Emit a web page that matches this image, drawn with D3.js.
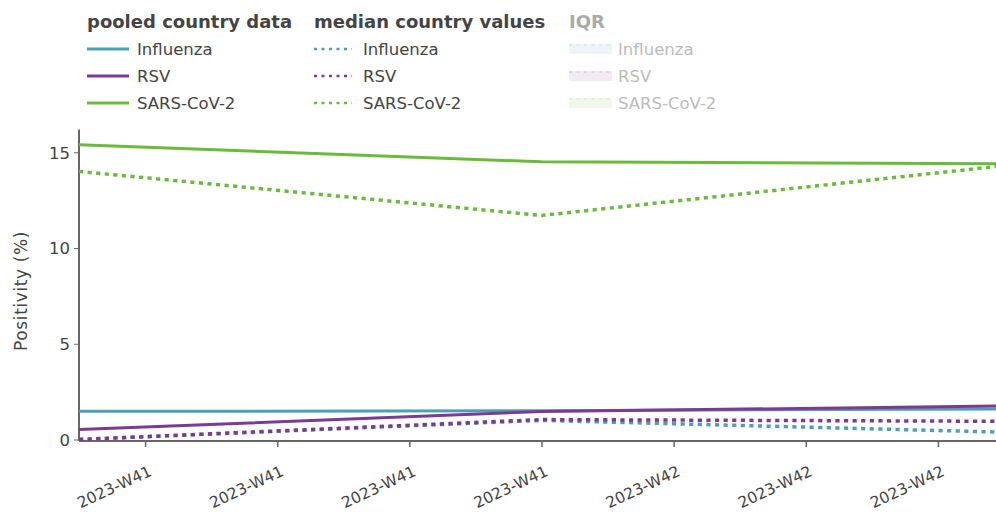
<!DOCTYPE html>
<html>
<head>
<meta charset="utf-8">
<script src="https://cdn.jsdelivr.net/npm/d3@7/dist/d3.min.js"></script>
<style>
  body { margin: 0; background: #fff; }
  svg { display: block; font-family: "DejaVu Sans", Verdana, sans-serif; }
</style>
</head>
<body>
<div id="chart"></div>
<script>
// Weekly positivity, three surveillance weeks (week ending dates).
const dates = ["2023-10-08", "2023-10-15", "2023-10-22"];
const viruses = ["Influenza", "RSV", "SARS-CoV-2"];
const colors = ["#4ba0b3", "#7d3a95", "#6abb3b"];

// pooled country data (solid lines)
const pooledFlu = [1.47, 1.5, 1.6];
const pooledRsv = [0.52, 1.46, 1.75];
const pooledSars = [15.4, 14.5, 14.4];

// median country values (dotted lines)
const medianFlu = [0.0, 1.0, 0.38];
const medianRsv = [0.0, 1.04, 0.95];
const medianSars = [14.0, 11.7, 14.3];

const legendTitles = ["pooled country data", "median country values", "IQR"];
const yTicks = [0, 5, 10, 15];

const W = 996, H = 513;
const font = "'DejaVu Sans', Verdana, sans-serif";
const parse = d3.timeParse("%Y-%m-%d");
const xDates = dates.map(parse);

const svg = d3.select("#chart").append("svg")
    .attr("width", W).attr("height", H);

// scales
const x = d3.scaleTime()
    .domain([xDates[0], xDates[2]])
    .range([79, 1004]);
const y = d3.scaleLinear()
    .domain([0, 16.19])
    .range([439.5, 129.5]);

const textCol = "#444";
const axisCol = "#666";

// y axis
const yAxis = d3.axisLeft(y).tickValues(yTicks).tickSize(5).tickPadding(4);
const gy = svg.append("g").attr("transform", "translate(79,0)").call(yAxis)
    .attr("font-family", font);
gy.select(".domain").remove();
gy.selectAll(".tick line").attr("stroke", axisCol).attr("stroke-width", 1);
gy.selectAll(".tick text")
    .attr("fill", textCol)
    .style("font-size", "16.5px")
    .attr("dy", "0.35em");
svg.append("line")
    .attr("x1", 79).attr("x2", 79)
    .attr("y1", 129.5).attr("y2", 441)
    .attr("stroke", axisCol).attr("stroke-width", 2);

// x axis: ticks every two days, labelled by ISO week
const xTickDates = d3.timeDay.range(d3.timeDay.offset(xDates[0], 1), xDates[2], 2);
const xAxis = d3.axisBottom(x)
    .tickValues(xTickDates)
    .tickFormat(d3.timeFormat("%G-W%V"))
    .tickSize(6);
const gx = svg.append("g").attr("transform", "translate(0,441)").call(xAxis)
    .attr("font-family", font);
gx.select(".domain").remove();
gx.selectAll(".tick line").attr("stroke", axisCol).attr("stroke-width", 1.5);
gx.selectAll(".tick text")
    .attr("fill", textCol)
    .style("font-size", "15.5px")
    .attr("text-anchor", "end")
    .attr("dy", null)
    .attr("y", null)
    .attr("transform", "translate(7,34) rotate(-25)");
svg.append("line")
    .attr("x1", 79).attr("x2", W)
    .attr("y1", 441).attr("y2", 441)
    .attr("stroke", axisCol).attr("stroke-width", 2);

// y axis title
svg.append("text")
    .attr("transform", "translate(27,291) rotate(-90)")
    .attr("text-anchor", "middle")
    .attr("fill", textCol)
    .style("font-size", "17px")
    .style("letter-spacing", "0.6px")
    .text("Positivity (%)");

// lines
const line = d3.line()
    .x((d, i) => x(xDates[i]))
    .y(d => y(d));

const plot = svg.append("g");
const pooled = [pooledFlu, pooledRsv, pooledSars];
const medians = [medianFlu, medianRsv, medianSars];

pooled.forEach((vals, k) => {
    plot.append("path")
        .attr("d", line(vals))
        .attr("fill", "none")
        .attr("stroke", colors[k])
        .attr("stroke-width", 3);
});
medians.forEach((vals, k) => {
    plot.append("path")
        .attr("d", line(vals))
        .attr("fill", "none")
        .attr("stroke", colors[k])
        .attr("stroke-width", 3.5)
        .attr("stroke-dasharray", "4.2,4.4");
});

// legend
const colX = [87, 314, 569];
const swW = 42;
const rowY = [49, 76, 103];
const legend = svg.append("g");

legendTitles.forEach((t, c) => {
    legend.append("text")
        .attr("x", colX[c]).attr("y", 28)
        .attr("fill", c === 2 ? "#aaa" : textCol)
        .style("font-size", "18px")
        .style("font-weight", "bold")
        .text(t);
});

viruses.forEach((v, k) => {
    const yy = rowY[k];
    // pooled
    legend.append("line")
        .attr("x1", colX[0]).attr("x2", colX[0] + swW)
        .attr("y1", yy).attr("y2", yy)
        .attr("stroke", colors[k]).attr("stroke-width", 3);
    legend.append("text")
        .attr("x", colX[0] + 50).attr("y", yy).attr("dy", "0.35em")
        .attr("fill", textCol).style("font-size", "16.5px").text(v);
    // median
    legend.append("line")
        .attr("x1", colX[1]).attr("x2", colX[1] + 38)
        .attr("y1", yy).attr("y2", yy)
        .attr("stroke", colors[k]).attr("stroke-width", 2.5)
        .attr("stroke-dasharray", "3,4.5");
    legend.append("text")
        .attr("x", colX[1] + 49).attr("y", yy).attr("dy", "0.35em")
        .attr("fill", textCol).style("font-size", "16.5px").text(v);
    // IQR (hidden traces, greyed legend)
    legend.append("rect")
        .attr("x", colX[2]).attr("y", yy - 5)
        .attr("width", 43).attr("height", 10)
        .attr("fill", colors[k]).attr("opacity", 0.1);
    legend.append("line")
        .attr("x1", colX[2]).attr("x2", colX[2] + 43)
        .attr("y1", yy - 4).attr("y2", yy - 4)
        .attr("stroke", colors[k]).attr("stroke-width", 2)
        .attr("stroke-dasharray", "3,4.5").attr("opacity", 0.12);
    legend.append("text")
        .attr("x", colX[2] + 49).attr("y", yy).attr("dy", "0.35em")
        .attr("fill", "#bbb").style("font-size", "16.5px").text(v);
});
</script>
</body>
</html>
